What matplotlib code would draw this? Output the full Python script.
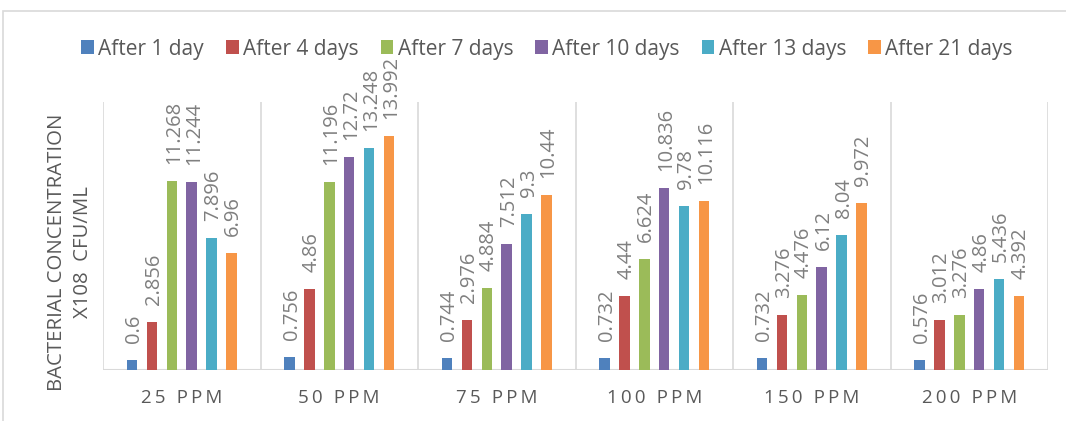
import matplotlib
matplotlib.use("Agg")
import matplotlib.pyplot as plt
from matplotlib.patches import Rectangle
import numpy as np

plt.rcParams['font.family'] = ['Open Sans', 'DejaVu Sans']

categories = ["25 PPM", "50 PPM", "75 PPM", "100 PPM", "150 PPM", "200 PPM"]
series_names = ["After 1 day", "After 4 days", "After 7 days", "After 10 days",
                "After 13 days", "After 21 days"]
after_1 = [0.6, 0.756, 0.744, 0.732, 0.732, 0.576]
after_4 = [2.856, 4.86, 2.976, 4.44, 3.276, 3.012]
after_7 = [11.268, 11.196, 4.884, 6.624, 4.476, 3.276]
after_10 = [11.244, 12.72, 7.512, 10.836, 6.12, 4.86]
after_13 = [7.896, 13.248, 9.3, 9.78, 8.04, 5.436]
after_21 = [6.96, 13.992, 10.44, 10.116, 9.972, 4.392]
series = [after_1, after_4, after_7, after_10, after_13, after_21]
colors = ["#4F81BD", "#C0504D", "#9BBB59", "#8064A2", "#4BACC6", "#F79646"]

W, H = 1066, 421
fig = plt.figure(figsize=(W / 100, H / 100), dpi=100)
ax = fig.add_axes([103 / W, (H - 370) / H, (1048 - 103) / W, (370 - 102) / H])

# outer chart border
fig.patches.append(Rectangle((3 / W, -0.1), 1.2, (H - 11) / H + 0.1,
                             transform=fig.transFigure, fill=False,
                             edgecolor="#D9D9D9", linewidth=1.2))

x = np.arange(len(categories))
pitch = 0.126
width = 0.066
n = len(series)
for i, (vals, c, name) in enumerate(zip(series, colors, series_names)):
    pos = x + (i - (n - 1) / 2) * pitch
    bars = ax.bar(pos, vals, width=width, color=c, label=name, zorder=3)
    for b, v in zip(bars, vals):
        ax.annotate(f"{v:g}", (b.get_x() + b.get_width() / 2, v),
                    xytext=(2, 17), textcoords="offset pixels",
                    rotation=90, ha="center", va="bottom",
                    fontsize=14.5, color="#7F7F7F")

ax.set_xlim(-0.5, len(categories) - 0.5)
ax.set_ylim(0, 16)
for k in range(len(categories) + 1):
    ax.axvline(k - 0.5, color="#D9D9D9", linewidth=1.2, zorder=1)
ax.axhline(0, color="#D9D9D9", linewidth=1.5, zorder=2)
for s in ax.spines.values():
    s.set_visible(False)
ax.set_yticks([])
ax.set_xticks(x)
spaced = ["\u2009".join(list(c)) for c in categories]
ax.set_xticklabels(spaced, fontsize=13.5, color="#595959")
ax.tick_params(axis="x", length=0, pad=14)

fig.text(70 / W, (H - 252) / H, "BACTERIAL CONCENTRATION\nX108  CFU/ML",
         rotation=90, ha="center", va="center", fontsize=14.7,
         color="#595959", linespacing=1.35, multialignment="center")

leg = fig.legend(loc="center", bbox_to_anchor=(547 / W, (H - 49) / H),
                 ncol=6, frameon=False, fontsize=15, handlelength=0.62,
                 handleheight=0.62, handletextpad=0.2, columnspacing=1.05,
                 labelcolor="#595959")

fig.savefig("out.png", dpi=100)
